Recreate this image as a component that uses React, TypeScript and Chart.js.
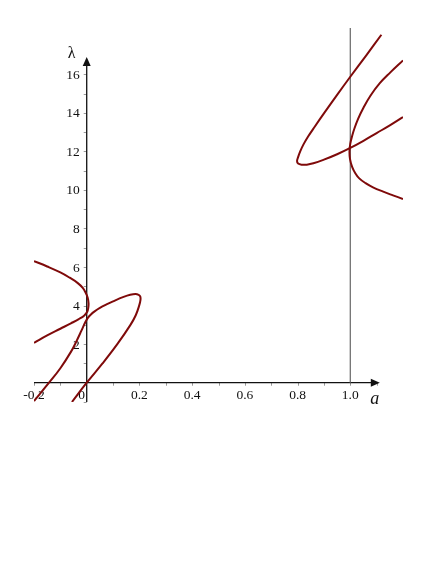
import { useEffect, useRef } from "react";
import { Chart, registerables } from "chart.js";

Chart.register(...registerables);

// ---- data ----
const branchLeftUpper: [number, number][] = [
  [-0.2, 6.31], [-0.15, 6.03], [-0.1, 5.72], [-0.065, 5.45], [-0.035, 5.18],
  [-0.015, 4.92], [-0.003, 4.64], [0.004, 4.4], [0.007, 4.12], [0.006, 3.9],
  [0.002, 3.68], [-0.01, 3.48], [-0.03, 3.3], [-0.06, 3.08], [-0.1, 2.8],
  [-0.15, 2.45], [-0.2, 2.07],
];

const branchLeftLower: [number, number][] = [
  [-0.2, -0.95], [-0.143, 0.0], [-0.1, 0.75], [-0.06, 1.6], [-0.04, 2.12],
  [-0.02, 2.7], [-0.005, 3.15], [0.005, 3.38], [0.015, 3.53], [0.03, 3.7],
  [0.05, 3.88], [0.075, 4.06], [0.1, 4.22], [0.14, 4.45], [0.165, 4.56],
  [0.185, 4.6], [0.197, 4.56], [0.203, 4.48], [0.204, 4.3], [0.199, 4.0],
  [0.186, 3.5], [0.166, 3.0], [0.116, 2.0], [0.06, 1.0], [0.0, 0.0],
  [-0.056, -1.0],
];

const branchRightOuter: [number, number][] = [
  [1.118, 18.05], [1.06, 16.97], [1.0, 15.87], [0.95, 14.93], [0.9, 13.97],
  [0.865, 13.28], [0.84, 12.77], [0.822, 12.35], [0.81, 12.0], [0.802, 11.7],
  [0.798, 11.5], [0.802, 11.37], [0.815, 11.31], [0.835, 11.31], [0.86, 11.38],
  [0.9, 11.57], [0.95, 11.85], [1.0, 12.18], [1.05, 12.55], [1.1, 12.95],
  [1.15, 13.35], [1.2, 13.78],
];

const branchRightInner: [number, number][] = [
  [1.2, 16.72], [1.152, 16.1], [1.112, 15.54], [1.077, 14.9], [1.049, 14.24],
  [1.03, 13.7], [1.016, 13.2], [1.007, 12.8], [1.0, 12.4], [0.997, 12.0],
  [0.999, 11.6], [1.007, 11.2], [1.019, 10.87], [1.034, 10.6], [1.058, 10.35],
  [1.088, 10.12], [1.125, 9.91], [1.162, 9.72], [1.2, 9.53],
];

const verticalLine: [number, number][] = [[1.0, 0.0], [1.0, 18.4]];

const xTickValues = [-0.2, 0, 0.2, 0.4, 0.6, 0.8, 1.0];
const xTickLabels = ["-0.2", "0", "0.2", "0.4", "0.6", "0.8", "1.0"];
const xMinorTicks = [-0.2, -0.1, 0.1, 0.2, 0.3, 0.4, 0.5, 0.6, 0.7, 0.8, 0.9, 1.0, 1.1];
const yTickValues = [2, 4, 6, 8, 10, 12, 14, 16];
const yTickLabels = ["2", "4", "6", "8", "10", "12", "14", "16"];
const yMinorTicks = [-1, 1, 2, 3, 4, 5, 6, 7, 8, 9, 10, 11, 12, 13, 14, 15, 16];
const xAxisRange = [-0.2, 1.112];
const yAxisRange = [-1.0, 16.9];
const xAxisTitle = "a";
const yAxisTitle = "λ";

const CURVE = "#7f0a0a";

const toPts = (a: [number, number][]) => a.map(([x, y]) => ({ x, y }));

const axesPlugin = {
  id: "mapleAxes",
  beforeDatasetsDraw(chart: any) {
    const { ctx } = chart;
    const xs = chart.scales.x;
    const ys = chart.scales.y;
    const x0 = xs.getPixelForValue(0);
    const y0 = ys.getPixelForValue(0);
    ctx.save();

    // minor ticks
    ctx.strokeStyle = "#9a9a9a";
    ctx.lineWidth = 1;
    for (const v of xMinorTicks) {
      const px = Math.round(xs.getPixelForValue(v)) + 0.5;
      ctx.beginPath();
      ctx.moveTo(px, y0);
      ctx.lineTo(px, y0 + 3);
      ctx.stroke();
    }
    for (const v of yMinorTicks) {
      const py = Math.round(ys.getPixelForValue(v)) + 0.5;
      ctx.beginPath();
      ctx.moveTo(x0 - 3, py);
      ctx.lineTo(x0, py);
      ctx.stroke();
    }

    // axis lines
    ctx.strokeStyle = "#111";
    ctx.fillStyle = "#111";
    ctx.lineWidth = 1.3;
    const xa = xs.getPixelForValue(xAxisRange[0]);
    const xb = xs.getPixelForValue(xAxisRange[1]);
    ctx.beginPath();
    ctx.moveTo(xa, y0);
    ctx.lineTo(xb - 4, y0);
    ctx.stroke();
    ctx.beginPath();
    ctx.moveTo(xb, y0);
    ctx.lineTo(xb - 9, y0 - 4);
    ctx.lineTo(xb - 9, y0 + 4);
    ctx.closePath();
    ctx.fill();

    const ya = ys.getPixelForValue(yAxisRange[0]);
    const yb = ys.getPixelForValue(yAxisRange[1]);
    ctx.beginPath();
    ctx.moveTo(x0, ya);
    ctx.lineTo(x0, yb + 4);
    ctx.stroke();
    ctx.beginPath();
    ctx.moveTo(x0, yb);
    ctx.lineTo(x0 - 4, yb + 9);
    ctx.lineTo(x0 + 4, yb + 9);
    ctx.closePath();
    ctx.fill();

    // tick labels
    ctx.fillStyle = "#111";
    ctx.font = '13.5px "Liberation Serif", "DejaVu Serif", serif';
    ctx.textAlign = "center";
    ctx.textBaseline = "middle";
    xTickValues.forEach((v, i) => {
      let px = xs.getPixelForValue(v);
      if (v === 0) px -= 5;
      ctx.fillText(xTickLabels[i], px, y0 + 13);
    });
    ctx.textAlign = "right";
    yTickValues.forEach((v, i) => {
      ctx.fillText(yTickLabels[i], x0 - 7, ys.getPixelForValue(v) + 1);
    });

    // axis titles
    ctx.textAlign = "center";
    ctx.font = '16px "Liberation Serif", "DejaVu Serif", serif';
    ctx.fillText(yAxisTitle, x0 - 15, yb - 3);
    ctx.font = 'italic 18px "Liberation Serif", "DejaVu Serif", serif';
    ctx.fillText(xAxisTitle, xb - 5, y0 + 17);
    ctx.restore();
  },
};

export default function App() {
  const ref = useRef<HTMLCanvasElement | null>(null);
  useEffect(() => {
    if (!ref.current) return;
    const curveDs = (data: [number, number][]) => ({
      data: toPts(data),
      borderColor: CURVE,
      borderWidth: 2,
      pointRadius: 0,
      tension: 0.4,
      fill: false,
    });
    const chart = new Chart(ref.current, {
      type: "line",
      data: {
        datasets: [
          curveDs(branchLeftUpper),
          curveDs(branchLeftLower),
          curveDs(branchRightOuter),
          curveDs(branchRightInner),
          {
            data: toPts(verticalLine),
            borderColor: "#666",
            borderWidth: 1.2,
            pointRadius: 0,
            tension: 0,
            fill: false,
          },
        ],
      },
      options: {
        animation: false,
        responsive: true,
        maintainAspectRatio: false,
        layout: { padding: { left: 34, right: 40, top: 28, bottom: 171 } },
        plugins: { legend: { display: false }, tooltip: { enabled: false } },
        scales: {
          x: { type: "linear", min: -0.2, max: 1.2, display: false },
          y: { type: "linear", min: -1.0, max: 18.4, display: false },
        },
      },
      plugins: [axesPlugin],
    } as any);
    return () => chart.destroy();
  }, []);
  return (
    <div style={{ position: "fixed", left: 0, top: 0, width: 443, height: 573, background: "#fff" }}>
      <canvas ref={ref} style={{ display: "block" }} />
    </div>
  );
}
